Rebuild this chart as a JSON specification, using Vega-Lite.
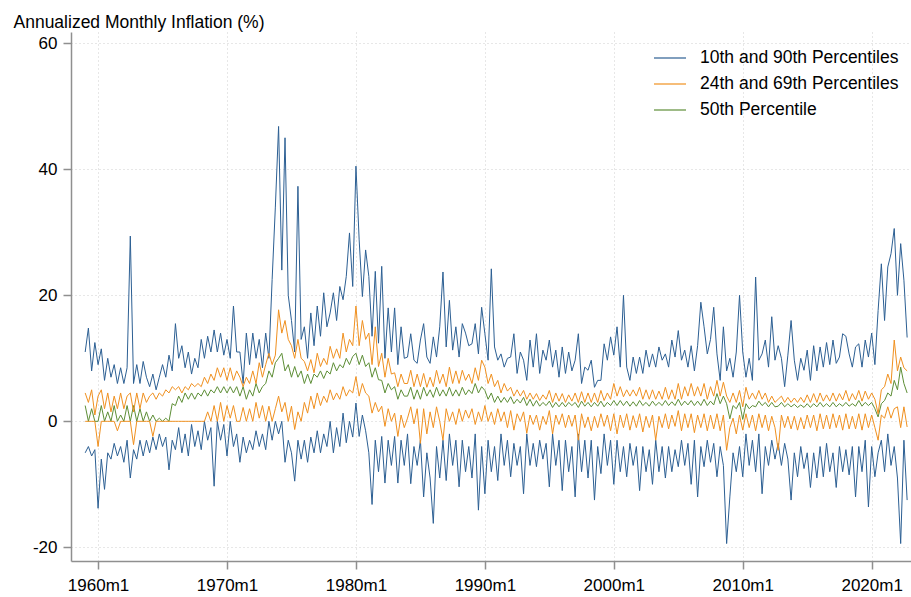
{
"$schema":"https://vega.github.io/schema/vega-lite/v6.json",
"width":840,"height":529,
"autosize":{"type":"none"},
"padding":{"left":71,"top":32,"right":0,"bottom":36},
"background":"white",
"config":{"view":{"stroke":null},"font":"Liberation Sans",
"legend":{"orient":"none","legendX":582,"legendY":9,"symbolType":"stroke","symbolSize":1024,"symbolStrokeWidth":1.2,"labelFontSize":17.5,"labelColor":"#000","labelOffset":13,"rowPadding":0,"padding":0,"labelLimit":400}},
"data":{"values":[
{"t":1959,"p10":-5,"p24":0,"p50":2.5,"p69":4.5,"p90":11},
{"t":1959.25,"p10":-4,"p24":0,"p50":0,"p69":3,"p90":14.8},
{"t":1959.5,"p10":-5.5,"p24":0,"p50":2,"p69":5,"p90":8},
{"t":1959.75,"p10":-4.5,"p24":0,"p50":0,"p69":1,"p90":12.5},
{"t":1960,"p10":-13.8,"p24":-4,"p50":0,"p69":4,"p90":9},
{"t":1960.25,"p10":-6,"p24":0,"p50":2.5,"p69":5,"p90":11.5},
{"t":1960.5,"p10":-10.8,"p24":0,"p50":0,"p69":2,"p90":6.5},
{"t":1960.75,"p10":-5,"p24":0,"p50":1.5,"p69":4.5,"p90":10},
{"t":1961,"p10":-6,"p24":0,"p50":0,"p69":1.5,"p90":7},
{"t":1961.25,"p10":-3.5,"p24":0,"p50":2.5,"p69":4,"p90":9},
{"t":1961.5,"p10":-5.5,"p24":-1.5,"p50":0,"p69":2,"p90":6},
{"t":1961.75,"p10":-4,"p24":0,"p50":1,"p69":4.5,"p90":8.5},
{"t":1962,"p10":-6.5,"p24":0,"p50":0,"p69":2,"p90":6},
{"t":1962.25,"p10":-3,"p24":0,"p50":2.5,"p69":4,"p90":8.5},
{"t":1962.5,"p10":-9,"p24":0,"p50":0,"p69":4.5,"p90":29.4},
{"t":1962.75,"p10":-4.5,"p24":-3.7,"p50":2.5,"p69":1.5,"p90":6},
{"t":1963,"p10":-6,"p24":0,"p50":0,"p69":4.5,"p90":9},
{"t":1963.25,"p10":-3,"p24":0,"p50":2,"p69":2,"p90":6},
{"t":1963.5,"p10":-5.5,"p24":0,"p50":0,"p69":4.5,"p90":9.5},
{"t":1963.75,"p10":-3,"p24":0,"p50":1.5,"p69":3,"p90":7},
{"t":1964,"p10":-5,"p24":0,"p50":0,"p69":4,"p90":5.5},
{"t":1964.25,"p10":-2.5,"p24":-2.4,"p50":1,"p69":4.5,"p90":7.5},
{"t":1964.5,"p10":-4.5,"p24":0,"p50":0,"p69":3.5,"p90":5},
{"t":1964.75,"p10":-2,"p24":0,"p50":0.5,"p69":4.5,"p90":7},
{"t":1965,"p10":-4,"p24":0,"p50":0,"p69":4,"p90":9},
{"t":1965.25,"p10":-2.5,"p24":0,"p50":0.5,"p69":5,"p90":7},
{"t":1965.5,"p10":-7.7,"p24":0,"p50":0,"p69":4.5,"p90":10.5},
{"t":1965.75,"p10":-3,"p24":0,"p50":2.8,"p69":5.5,"p90":8},
{"t":1966,"p10":-4.5,"p24":0,"p50":2.5,"p69":5,"p90":15.5},
{"t":1966.25,"p10":-1,"p24":0,"p50":4,"p69":5.5,"p90":10},
{"t":1966.5,"p10":-5,"p24":0,"p50":3,"p69":4.5,"p90":12},
{"t":1966.75,"p10":-2,"p24":0,"p50":4.5,"p69":5.5,"p90":8.5},
{"t":1967,"p10":-5.5,"p24":0,"p50":3.5,"p69":5,"p90":11},
{"t":1967.25,"p10":-0.5,"p24":0,"p50":4.5,"p69":6,"p90":7.5},
{"t":1967.5,"p10":-4,"p24":0,"p50":3.5,"p69":5.5,"p90":10},
{"t":1967.75,"p10":-1.5,"p24":0,"p50":4.5,"p69":6,"p90":8.5},
{"t":1968,"p10":-4.5,"p24":0,"p50":4,"p69":5.5,"p90":13},
{"t":1968.25,"p10":0,"p24":0,"p50":5,"p69":7,"p90":10},
{"t":1968.5,"p10":-3,"p24":1.5,"p50":4,"p69":6,"p90":13.5},
{"t":1968.75,"p10":-1,"p24":0,"p50":5,"p69":7.5,"p90":11},
{"t":1969,"p10":-10.3,"p24":2.5,"p50":4.5,"p69":6.5,"p90":14.5},
{"t":1969.25,"p10":0,"p24":0,"p50":5.5,"p69":8.5,"p90":11},
{"t":1969.5,"p10":-3,"p24":3,"p50":4.5,"p69":7,"p90":14},
{"t":1969.75,"p10":-0.5,"p24":0,"p50":5.5,"p69":8.5,"p90":10.5},
{"t":1970,"p10":-5.5,"p24":2.5,"p50":4.5,"p69":6.5,"p90":13},
{"t":1970.25,"p10":0,"p24":0.5,"p50":5.5,"p69":8.5,"p90":10},
{"t":1970.5,"p10":-4,"p24":2.5,"p50":4.5,"p69":6.5,"p90":18.3},
{"t":1970.75,"p10":-2,"p24":0,"p50":5.5,"p69":8,"p90":11},
{"t":1971,"p10":-6.5,"p24":0,"p50":4,"p69":7,"p90":11},
{"t":1971.25,"p10":-2.5,"p24":2.2,"p50":5.5,"p69":5.5,"p90":6},
{"t":1971.5,"p10":-5,"p24":0,"p50":3.5,"p69":7,"p90":14},
{"t":1971.75,"p10":-3,"p24":2,"p50":5,"p69":6,"p90":9},
{"t":1972,"p10":-4.5,"p24":0,"p50":4,"p69":8,"p90":14},
{"t":1972.25,"p10":-1.5,"p24":3,"p50":6,"p69":6,"p90":10},
{"t":1972.5,"p10":-4,"p24":0.5,"p50":4.5,"p69":9.3,"p90":13},
{"t":1972.75,"p10":-2,"p24":2.5,"p50":5.5,"p69":7,"p90":8.5},
{"t":1973,"p10":-4.5,"p24":0,"p50":6,"p69":9,"p90":14},
{"t":1973.25,"p10":0,"p24":2.4,"p50":8,"p69":10.8,"p90":10},
{"t":1973.5,"p10":-3,"p24":0,"p50":7,"p69":9,"p90":22.5},
{"t":1973.75,"p10":0,"p24":2,"p50":9.3,"p69":10.5,"p90":34},
{"t":1974,"p10":-2,"p24":4,"p50":10,"p69":17.7,"p90":46.8},
{"t":1974.25,"p10":0,"p24":1.5,"p50":10.8,"p69":14,"p90":24},
{"t":1974.5,"p10":-6.5,"p24":3,"p50":8,"p69":16,"p90":45},
{"t":1974.75,"p10":-3,"p24":0,"p50":9,"p69":13,"p90":20},
{"t":1975,"p10":-5,"p24":2.4,"p50":7,"p69":12,"p90":16},
{"t":1975.25,"p10":-9.5,"p24":-1.3,"p50":8.7,"p69":10,"p90":11},
{"t":1975.5,"p10":-3,"p24":1.5,"p50":7,"p69":13,"p90":37.3},
{"t":1975.75,"p10":-6,"p24":0,"p50":8,"p69":10,"p90":13},
{"t":1976,"p10":-3,"p24":3,"p50":6,"p69":9.5,"p90":15},
{"t":1976.25,"p10":-6.5,"p24":1.3,"p50":7.5,"p69":8,"p90":10},
{"t":1976.5,"p10":-2.5,"p24":4,"p50":6,"p69":9.8,"p90":17.2},
{"t":1976.75,"p10":-5,"p24":2,"p50":7.5,"p69":7.7,"p90":12},
{"t":1977,"p10":-1.5,"p24":4.5,"p50":7,"p69":10.8,"p90":18.3},
{"t":1977.25,"p10":-5,"p24":2.5,"p50":8,"p69":8.7,"p90":13.5},
{"t":1977.5,"p10":-2,"p24":4,"p50":6.8,"p69":10,"p90":20.4},
{"t":1977.75,"p10":-4,"p24":3,"p50":8,"p69":9,"p90":15},
{"t":1978,"p10":0,"p24":5,"p50":7.5,"p69":11.9,"p90":17.2},
{"t":1978.25,"p10":-5,"p24":3.4,"p50":9.3,"p69":10,"p90":20.4},
{"t":1978.5,"p10":-1,"p24":4.5,"p50":8,"p69":11.5,"p90":16},
{"t":1978.75,"p10":-4,"p24":3.5,"p50":9,"p69":10,"p90":21.4},
{"t":1979,"p10":1.3,"p24":5.5,"p50":8.5,"p69":14,"p90":19.3},
{"t":1979.25,"p10":-3.4,"p24":4,"p50":10,"p69":11,"p90":23},
{"t":1979.5,"p10":0,"p24":5,"p50":9,"p69":13,"p90":29.9},
{"t":1979.75,"p10":-2.5,"p24":4.5,"p50":10.3,"p69":12,"p90":21.4},
{"t":1980,"p10":2.9,"p24":7.1,"p50":10.8,"p69":18.3,"p90":40.5},
{"t":1980.25,"p10":-2.4,"p24":4,"p50":9,"p69":12,"p90":28.8},
{"t":1980.5,"p10":1,"p24":6,"p50":10.5,"p69":16,"p90":19.8},
{"t":1980.75,"p10":-1.5,"p24":4.5,"p50":8.7,"p69":13,"p90":27.2},
{"t":1981,"p10":-5,"p24":4,"p50":9.3,"p69":14,"p90":23},
{"t":1981.25,"p10":-13.2,"p24":1.3,"p50":7,"p69":9,"p90":13.5},
{"t":1981.5,"p10":-3,"p24":3,"p50":8.5,"p69":15,"p90":23.8},
{"t":1981.75,"p10":-8,"p24":1.5,"p50":6.6,"p69":8.7,"p90":12.4},
{"t":1982,"p10":-2.4,"p24":2.4,"p50":6.5,"p69":10.8,"p90":24.6},
{"t":1982.25,"p10":-9.8,"p24":-0.8,"p50":4.5,"p69":7,"p90":10},
{"t":1982.5,"p10":-3,"p24":2,"p50":6,"p69":10,"p90":18},
{"t":1982.75,"p10":-7,"p24":0,"p50":5,"p69":7.5,"p90":11},
{"t":1983,"p10":-2.4,"p24":1.3,"p50":5.5,"p69":7.7,"p90":18},
{"t":1983.25,"p10":-9.8,"p24":-2.4,"p50":3.5,"p69":5.5,"p90":9},
{"t":1983.5,"p10":-3,"p24":1,"p50":5,"p69":7.5,"p90":15},
{"t":1983.75,"p10":-7,"p24":-1,"p50":4,"p69":6,"p90":10},
{"t":1984,"p10":-2,"p24":0.5,"p50":4,"p69":6,"p90":10.2},
{"t":1984.25,"p10":-9.9,"p24":2.3,"p50":5.4,"p69":8.1,"p90":13.9},
{"t":1984.5,"p10":-4,"p24":-0.4,"p50":3.5,"p69":5.5,"p90":9.7},
{"t":1984.75,"p10":-7,"p24":2,"p50":5,"p69":7.5,"p90":9.2},
{"t":1985,"p10":-3,"p24":-3.5,"p50":3.5,"p69":5.5,"p90":12.9},
{"t":1985.25,"p10":-12,"p24":2,"p50":5.4,"p69":7.6,"p90":15.5},
{"t":1985.5,"p10":-5,"p24":-2,"p50":4,"p69":5.4,"p90":10.2},
{"t":1985.75,"p10":-9,"p24":1.5,"p50":5,"p69":7,"p90":9.2},
{"t":1986,"p10":-16.2,"p24":-1,"p50":3.8,"p69":5.5,"p90":13.4},
{"t":1986.25,"p10":-4,"p24":2.3,"p50":5.4,"p69":8.1,"p90":10.2},
{"t":1986.5,"p10":-9,"p24":0,"p50":4,"p69":6,"p90":15},
{"t":1986.75,"p10":-3,"p24":-3,"p50":5,"p69":7.5,"p90":23.7},
{"t":1987,"p10":-9.4,"p24":2,"p50":4,"p69":5.5,"p90":11.8},
{"t":1987.25,"p10":-2,"p24":0,"p50":5.4,"p69":8.6,"p90":19.2},
{"t":1987.5,"p10":-7,"p24":1.5,"p50":4,"p69":6,"p90":11.3},
{"t":1987.75,"p10":-3,"p24":-0.5,"p50":5,"p69":8,"p90":15},
{"t":1988,"p10":-10.4,"p24":2,"p50":4,"p69":6,"p90":10.2},
{"t":1988.25,"p10":-3,"p24":0,"p50":5.4,"p69":8.1,"p90":15.5},
{"t":1988.5,"p10":-8,"p24":1.8,"p50":4.2,"p69":6.5,"p90":14},
{"t":1988.75,"p10":-4,"p24":0.5,"p50":5,"p69":7.5,"p90":12},
{"t":1989,"p10":-9,"p24":2,"p50":4.4,"p69":6,"p90":12.3},
{"t":1989.25,"p10":-2,"p24":-0.5,"p50":6,"p69":8.5,"p90":15.5},
{"t":1989.5,"p10":-14.1,"p24":1.5,"p50":4.5,"p69":6.5,"p90":10.7},
{"t":1989.75,"p10":-4,"p24":0,"p50":5.5,"p69":9.7,"p90":18.1},
{"t":1990,"p10":-11.5,"p24":2.5,"p50":4.9,"p69":8.6,"p90":13.9},
{"t":1990.25,"p10":-3,"p24":0,"p50":3.5,"p69":6,"p90":9.7},
{"t":1990.5,"p10":-8,"p24":1.5,"p50":4.5,"p69":7.5,"p90":24.2},
{"t":1990.75,"p10":-4,"p24":-0.5,"p50":3,"p69":5.5,"p90":11.8},
{"t":1991,"p10":-9.4,"p24":2,"p50":4,"p69":6.5,"p90":9.7},
{"t":1991.25,"p10":-2,"p24":0,"p50":3,"p69":4.5,"p90":10.7},
{"t":1991.5,"p10":-7,"p24":1.5,"p50":3.8,"p69":6,"p90":8.6},
{"t":1991.75,"p10":-3,"p24":-1,"p50":3,"p69":4.8,"p90":10},
{"t":1992,"p10":-8.8,"p24":1.7,"p50":3.9,"p69":5.4,"p90":10.2},
{"t":1992.25,"p10":-3.5,"p24":-1.4,"p50":2.8,"p69":4,"p90":13.9},
{"t":1992.5,"p10":-7,"p24":1.2,"p50":3.5,"p69":5,"p90":7.6},
{"t":1992.75,"p10":-4,"p24":0,"p50":2.9,"p69":4,"p90":11},
{"t":1993,"p10":-11.5,"p24":1.5,"p50":3.8,"p69":4.9,"p90":9.7},
{"t":1993.25,"p10":-2,"p24":-1.9,"p50":2.5,"p69":3.5,"p90":6.5},
{"t":1993.5,"p10":-7,"p24":1,"p50":3.5,"p69":4.5,"p90":12.9},
{"t":1993.75,"p10":-3.5,"p24":-0.5,"p50":2.4,"p69":3.5,"p90":8.6},
{"t":1994,"p10":-7.2,"p24":1,"p50":3.3,"p69":4.4,"p90":13.9},
{"t":1994.25,"p10":-3,"p24":-1.4,"p50":2.4,"p69":3.3,"p90":7.6},
{"t":1994.5,"p10":-6,"p24":0.8,"p50":3,"p69":4.2,"p90":11.3},
{"t":1994.75,"p10":-3.5,"p24":-0.5,"p50":2.5,"p69":3.5,"p90":9.7},
{"t":1995,"p10":-10.4,"p24":1.7,"p50":3.2,"p69":4.9,"p90":12.9},
{"t":1995.25,"p10":-2,"p24":-2,"p50":2.2,"p69":3,"p90":8.6},
{"t":1995.5,"p10":-7,"p24":1,"p50":3,"p69":4.5,"p90":11.3},
{"t":1995.75,"p10":-3,"p24":-0.5,"p50":2.3,"p69":3.2,"p90":7},
{"t":1996,"p10":-11,"p24":1.2,"p50":3,"p69":4.4,"p90":11.8},
{"t":1996.25,"p10":-3,"p24":-1,"p50":2.3,"p69":3,"p90":7.6},
{"t":1996.5,"p10":-8,"p24":1,"p50":3,"p69":4.2,"p90":11},
{"t":1996.75,"p10":-4,"p24":-0.8,"p50":2.5,"p69":3.2,"p90":8},
{"t":1997,"p10":-12,"p24":1,"p50":3,"p69":4.5,"p90":9.7},
{"t":1997.25,"p10":-2,"p24":-3,"p50":2.2,"p69":3,"p90":13.9},
{"t":1997.5,"p10":-8,"p24":1.2,"p50":3.2,"p69":4.7,"p90":6},
{"t":1997.75,"p10":-3,"p24":-1,"p50":2.4,"p69":3,"p90":8.6},
{"t":1998,"p10":-9,"p24":0.7,"p50":3,"p69":4.5,"p90":8.1},
{"t":1998.25,"p10":-3,"p24":-1.5,"p50":2.3,"p69":3,"p90":9.7},
{"t":1998.5,"p10":-12.5,"p24":0.8,"p50":3,"p69":4.5,"p90":5.4},
{"t":1998.75,"p10":-4,"p24":-1,"p50":2.4,"p69":3,"p90":6.5},
{"t":1999,"p10":-8.3,"p24":1.2,"p50":3.2,"p69":4.9,"p90":6.5},
{"t":1999.25,"p10":-2,"p24":-0.8,"p50":2.3,"p69":3.3,"p90":12.3},
{"t":1999.5,"p10":-7,"p24":1,"p50":3,"p69":4.5,"p90":9.7},
{"t":1999.75,"p10":-3,"p24":-1.5,"p50":2.5,"p69":3.5,"p90":13.4},
{"t":2000,"p10":-10,"p24":1.2,"p50":3.3,"p69":6,"p90":10.5},
{"t":2000.25,"p10":-3,"p24":-2,"p50":2.5,"p69":4,"p90":15},
{"t":2000.5,"p10":-8,"p24":1,"p50":3.3,"p69":5.5,"p90":8.6},
{"t":2000.75,"p10":-4,"p24":-1,"p50":2.5,"p69":3.9,"p90":20},
{"t":2001,"p10":-8.8,"p24":1.2,"p50":3.2,"p69":5,"p90":8.6},
{"t":2001.25,"p10":-3.5,"p24":-1.4,"p50":2.4,"p69":4,"p90":6.5},
{"t":2001.5,"p10":-7,"p24":0.9,"p50":3.1,"p69":5,"p90":10.2},
{"t":2001.75,"p10":-4,"p24":-1,"p50":2.4,"p69":4,"p90":7.6},
{"t":2002,"p10":-11,"p24":1.2,"p50":3.3,"p69":5.4,"p90":10.2},
{"t":2002.25,"p10":-4,"p24":-1.7,"p50":2.5,"p69":3.5,"p90":7.6},
{"t":2002.5,"p10":-8,"p24":0.8,"p50":3,"p69":5,"p90":11.3},
{"t":2002.75,"p10":-4.5,"p24":-1,"p50":2.4,"p69":3.5,"p90":8.6},
{"t":2003,"p10":-10,"p24":1,"p50":3.2,"p69":5,"p90":10.7},
{"t":2003.25,"p10":-3,"p24":-3,"p50":2.5,"p69":3.5,"p90":8.6},
{"t":2003.5,"p10":-8,"p24":0.8,"p50":3,"p69":4.8,"p90":11.8},
{"t":2003.75,"p10":-4,"p24":-1,"p50":2.5,"p69":3.5,"p90":9.7},
{"t":2004,"p10":-9,"p24":1.2,"p50":3.3,"p69":5.4,"p90":10.7},
{"t":2004.25,"p10":-4,"p24":-1.2,"p50":2.5,"p69":3.5,"p90":8.6},
{"t":2004.5,"p10":-8,"p24":1,"p50":3.1,"p69":5,"p90":12.9},
{"t":2004.75,"p10":-4.5,"p24":-0.8,"p50":2.5,"p69":3.5,"p90":10.2},
{"t":2005,"p10":-7.2,"p24":1.7,"p50":3.5,"p69":6,"p90":14.4},
{"t":2005.25,"p10":-3,"p24":-1.5,"p50":2.5,"p69":3.5,"p90":9.7},
{"t":2005.5,"p10":-7,"p24":1.2,"p50":3.2,"p69":5.5,"p90":11.3},
{"t":2005.75,"p10":-3.5,"p24":-1,"p50":2.6,"p69":4,"p90":8.6},
{"t":2006,"p10":-10,"p24":1.2,"p50":3.3,"p69":6,"p90":12},
{"t":2006.25,"p10":-3,"p24":-1.8,"p50":2.5,"p69":4,"p90":8},
{"t":2006.5,"p10":-12,"p24":1,"p50":3.2,"p69":5.5,"p90":12},
{"t":2006.75,"p10":-4,"p24":-1,"p50":2.5,"p69":4,"p90":18.9},
{"t":2007,"p10":-7.2,"p24":1.2,"p50":3.5,"p69":6,"p90":15},
{"t":2007.25,"p10":-3,"p24":-1.5,"p50":2.5,"p69":3.5,"p90":10.7},
{"t":2007.5,"p10":-6.5,"p24":1,"p50":3.2,"p69":5.5,"p90":13},
{"t":2007.75,"p10":-3.5,"p24":-1.2,"p50":2.6,"p69":4,"p90":18.1},
{"t":2008,"p10":-8.8,"p24":1.2,"p50":4.4,"p69":6.5,"p90":10.7},
{"t":2008.25,"p10":-4,"p24":-1.5,"p50":2.8,"p69":4,"p90":6.5},
{"t":2008.5,"p10":-7,"p24":1,"p50":4,"p69":6.2,"p90":15},
{"t":2008.75,"p10":-19.4,"p24":-4.6,"p50":2.8,"p69":4,"p90":8},
{"t":2009,"p10":-12,"p24":-1,"p50":0.4,"p69":3,"p90":10},
{"t":2009.25,"p10":-5,"p24":0.5,"p50":2.5,"p69":4.5,"p90":7},
{"t":2009.5,"p10":-8,"p24":-2,"p50":2,"p69":3,"p90":11},
{"t":2009.75,"p10":-4,"p24":1,"p50":3,"p69":4.9,"p90":20},
{"t":2010,"p10":-8.8,"p24":-1.4,"p50":0.3,"p69":2.3,"p90":11},
{"t":2010.25,"p10":-2,"p24":1.2,"p50":2.8,"p69":5.4,"p90":7},
{"t":2010.5,"p10":-7,"p24":-1,"p50":2,"p69":3.5,"p90":10},
{"t":2010.75,"p10":-3,"p24":1,"p50":2.5,"p69":4.5,"p90":6.5},
{"t":2011,"p10":-8,"p24":-1.5,"p50":2.3,"p69":3.5,"p90":22.9},
{"t":2011.25,"p10":-2,"p24":1.2,"p50":3.2,"p69":4.9,"p90":9.7},
{"t":2011.5,"p10":-11.5,"p24":-1,"p50":2.5,"p69":3.5,"p90":10.7},
{"t":2011.75,"p10":-4,"p24":1,"p50":3,"p69":4.5,"p90":12.9},
{"t":2012,"p10":-7,"p24":-1.5,"p50":2.3,"p69":3,"p90":8.6},
{"t":2012.25,"p10":-3,"p24":0.8,"p50":3,"p69":4,"p90":16.6},
{"t":2012.5,"p10":-6,"p24":-1,"p50":2.3,"p69":3,"p90":9.7},
{"t":2012.75,"p10":-3.5,"p24":-4.6,"p50":2.4,"p69":3.5,"p90":12},
{"t":2013,"p10":-7,"p24":1,"p50":3,"p69":4,"p90":10},
{"t":2013.25,"p10":-3.5,"p24":-1,"p50":2.3,"p69":3,"p90":5.5},
{"t":2013.5,"p10":-6,"p24":0.8,"p50":2.8,"p69":3.8,"p90":10.5},
{"t":2013.75,"p10":-12.5,"p24":-1.2,"p50":2.3,"p69":3,"p90":16},
{"t":2014,"p10":-5,"p24":0.8,"p50":2.7,"p69":3.7,"p90":9.7},
{"t":2014.25,"p10":-8.8,"p24":-1.4,"p50":2.2,"p69":3,"p90":6.5},
{"t":2014.5,"p10":-4,"p24":0.6,"p50":2.6,"p69":3.8,"p90":10},
{"t":2014.75,"p10":-7.5,"p24":-1.2,"p50":2.2,"p69":3,"p90":8.1},
{"t":2015,"p10":-5,"p24":1,"p50":2.8,"p69":4.2,"p90":11.3},
{"t":2015.25,"p10":-10.5,"p24":-1,"p50":2.2,"p69":3,"p90":6.5},
{"t":2015.5,"p10":-5,"p24":1,"p50":2.8,"p69":4.4,"p90":12},
{"t":2015.75,"p10":-9,"p24":-1.5,"p50":2.3,"p69":3,"p90":8},
{"t":2016,"p10":-4,"p24":1.2,"p50":3,"p69":4.5,"p90":11.8},
{"t":2016.25,"p10":-8.8,"p24":-1.2,"p50":2.3,"p69":3.2,"p90":8.6},
{"t":2016.5,"p10":-3.5,"p24":1,"p50":2.8,"p69":4.2,"p90":12.5},
{"t":2016.75,"p10":-8,"p24":-1.2,"p50":2.3,"p69":3.2,"p90":9},
{"t":2017,"p10":-5,"p24":1.2,"p50":3,"p69":4.5,"p90":12.9},
{"t":2017.25,"p10":-10.5,"p24":-1,"p50":2.3,"p69":3.2,"p90":9.2},
{"t":2017.5,"p10":-4,"p24":1,"p50":2.8,"p69":4.4,"p90":10.2},
{"t":2017.75,"p10":-8,"p24":-1.4,"p50":2.4,"p69":3.4,"p90":13.9},
{"t":2018,"p10":-4.5,"p24":1.2,"p50":3,"p69":4.9,"p90":13.5},
{"t":2018.25,"p10":-8.5,"p24":-1.2,"p50":2.4,"p69":3.2,"p90":10.7},
{"t":2018.5,"p10":-4,"p24":0.8,"p50":2.8,"p69":4.4,"p90":8.6},
{"t":2018.75,"p10":-12,"p24":-1.2,"p50":2.4,"p69":3.4,"p90":11.8},
{"t":2019,"p10":-4,"p24":1.2,"p50":3.3,"p69":4.9,"p90":12.3},
{"t":2019.25,"p10":-8,"p24":-1.4,"p50":2.4,"p69":3.2,"p90":8.6},
{"t":2019.5,"p10":-3,"p24":1.2,"p50":3,"p69":4.8,"p90":12.9},
{"t":2019.75,"p10":-13.6,"p24":-1,"p50":2.5,"p69":3.5,"p90":10.2},
{"t":2020,"p10":-4,"p24":1,"p50":3,"p69":4.5,"p90":14},
{"t":2020.25,"p10":-8.8,"p24":-1,"p50":2,"p69":3.5,"p90":9},
{"t":2020.5,"p10":-5,"p24":-3,"p50":0.7,"p69":1.2,"p90":17.6},
{"t":2020.75,"p10":-3,"p24":1,"p50":2.8,"p69":5,"p90":25},
{"t":2021,"p10":-8,"p24":0.5,"p50":3.3,"p69":5.5,"p90":16},
{"t":2021.25,"p10":-2,"p24":2.3,"p50":4.5,"p69":7.5,"p90":24.5},
{"t":2021.5,"p10":-7,"p24":0.5,"p50":4,"p69":6,"p90":26.6},
{"t":2021.75,"p10":-4,"p24":2,"p50":6.5,"p69":12.9,"p90":30.6},
{"t":2022,"p10":-9,"p24":2.3,"p50":5,"p69":8,"p90":20},
{"t":2022.25,"p10":-19.4,"p24":-1,"p50":8.6,"p69":10.2,"p90":28.2},
{"t":2022.5,"p10":-3,"p24":2.3,"p50":6,"p69":8.5,"p90":22.4},
{"t":2022.75,"p10":-12.5,"p24":-0.9,"p50":4.5,"p69":8,"p90":13.3}
]},
"encoding":{
"x":{"field":"t","type":"quantitative","title":null,
"scale":{"domain":[1957.9,2023.05],"nice":false,"zero":false},
"axis":{"values":[1960,1970,1980,1990,2000,2010,2020],"labelExpr":"datum.value + 'm1'","labelFlush":false,"labelAlign":"center","labelBound":false,"labelOverlap":false,"labelFontSize":17,"labelColor":"#000","labelPadding":8,"tickSize":8,"tickColor":"#8f8f8f","tickWidth":1.5,"domainColor":"#8f8f8f","domainWidth":1.5,"grid":true,"gridColor":"#cfcfcf","gridDash":[1,3],"gridWidth":1}}
},
"layer":[
{"mark":{"type":"line","strokeWidth":1},
"encoding":{"y":{"field":"p10","type":"quantitative","title":"Annualized Monthly Inflation (%)",
"scale":{"domain":[-22.17,61.79],"nice":false,"zero":false},
"axis":{"values":[-20,0,20,40,60],"labelExpr":"datum.value + ''","titleAngle":0,"titleAlign":"left","titleBaseline":"alphabetic","titleX":-58,"titleY":-4.5,"titleFontSize":17.5,"titleFontWeight":"normal","titleColor":"#000","labelFontSize":17,"labelColor":"#000","labelPadding":6,"tickSize":8,"tickColor":"#8f8f8f","tickWidth":1.5,"domainColor":"#8f8f8f","domainWidth":1.5,"grid":true,"gridColor":"#cfcfcf","gridDash":[1,3],"gridWidth":1}},
"color":{"datum":"10th and 90th Percentiles","type":"nominal","title":null,
"scale":{"domain":["10th and 90th Percentiles","24th and 69th Percentiles","50th Percentile"],"range":["#2c5f93","#f0901f","#5d8e36"]}}}},
{"mark":{"type":"line","strokeWidth":1},
"encoding":{"y":{"field":"p90","type":"quantitative"},"color":{"datum":"10th and 90th Percentiles","type":"nominal"}}},
{"mark":{"type":"line","strokeWidth":1},
"encoding":{"y":{"field":"p50","type":"quantitative"},"color":{"datum":"50th Percentile","type":"nominal"}}},
{"mark":{"type":"line","strokeWidth":1},
"encoding":{"y":{"field":"p24","type":"quantitative"},"color":{"datum":"24th and 69th Percentiles","type":"nominal"}}},
{"mark":{"type":"line","strokeWidth":1},
"encoding":{"y":{"field":"p69","type":"quantitative"},"color":{"datum":"24th and 69th Percentiles","type":"nominal"}}}
]
}
